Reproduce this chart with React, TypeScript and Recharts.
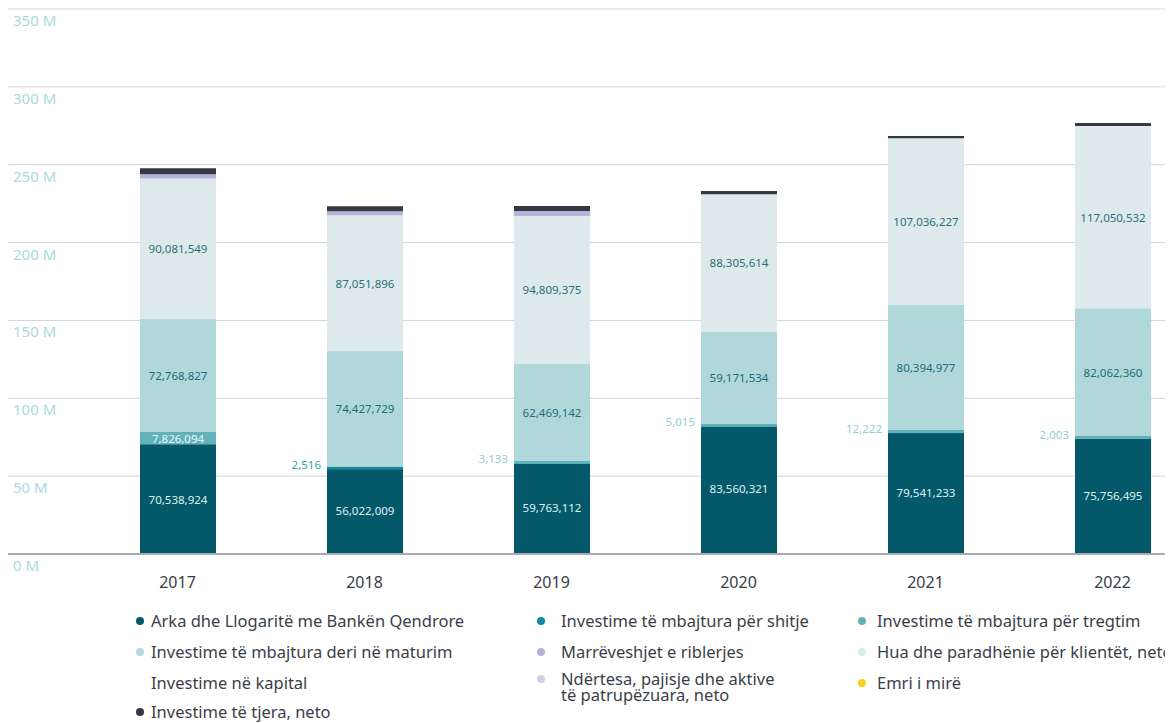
import { BarChart, Bar, XAxis, YAxis, CartesianGrid, LabelList } from "recharts"

// values (ALL amounts, stacked per year)
const years = ["2017", "2018", "2019", "2020", "2021", "2022"]
const arka = [70538924, 56022009, 59763112, 83560321, 79541233, 75756495]
const shitje = [null, 2516, null, null, null, null]
const tregtim = [7826094, null, 3133, 5015, 12222, 2003]
const maturim = [72768827, 74427729, 62469142, 59171534, 80394977, 82062360]
const hua = [90081549, 87051896, 94809375, 88305614, 107036227, 117050532]
const riblerje = [2600000, 2600000, 3200000, null, null, null]
const kapital = [null, null, null, null, null, null]
const ndertesa = [null, null, null, null, null, null]
const emri = [null, null, null, null, null, null]
const tjera = [3900000, 3200000, 3200000, 2100000, 1500000, 1900000]
const yTicks = [0, 50000000, 100000000, 150000000, 200000000, 250000000, 300000000, 350000000]

const data = years.map((year, i) => ({
  year,
  arka: arka[i],
  shitje: shitje[i],
  tregtim: tregtim[i],
  maturim: maturim[i],
  hua: hua[i],
  riblerje: riblerje[i],
  kapital: kapital[i],
  ndertesa: ndertesa[i],
  emri: emri[i],
  tjera: tjera[i],
}))

const colors = {
  arka: "#03596a",
  shitje: "#10899a",
  tregtim: "#62b3b9",
  maturim: "#b0d8db",
  riblerje: "#b8b2d8",
  hua: "#dde9ea",
  kapital: "#ffffff",
  ndertesa: "#cfcfe7",
  emri: "#f7d31a",
  tjera: "#343a45",
}

// legend layout (page coords of bullet / text / first line centre)
const legend = [
  { key: "arka", name: "Arka dhe Llogaritë me Bankën Qendrore", bx: 140, tx: 151, y: 621 },
  { key: "shitje", name: "Investime të mbajtura për shitje", bx: 541, tx: 561, y: 621 },
  { key: "tregtim", name: "Investime të mbajtura për tregtim", bx: 862, tx: 877, y: 621 },
  { key: "maturim", name: "Investime të mbajtura deri në maturim", bx: 140, tx: 151, y: 652 },
  { key: "riblerje", name: "Marrëveshjet e riblerjes", bx: 541, tx: 561, y: 652 },
  { key: "hua", name: "Hua dhe paradhënie për klientët, neto", bx: 862, tx: 877, y: 652 },
  { key: "kapital", name: "Investime në kapital", bx: null, tx: 151, y: 683 },
  { key: "ndertesa", name: "Ndërtesa, pajisje dhe aktive\ntë patrupëzuara, neto", bx: 541, tx: 561, y: 679 },
  { key: "emri", name: "Emri i mirë", bx: 862, tx: 877, y: 683 },
  { key: "tjera", name: "Investime të tjera, neto", bx: 140, tx: 151, y: 712 },
]

const fmt = (v: number) => v.toLocaleString("en-US")

// thin segments still show as a 3px line on top of the bar below
const ThinBar = (props: any) => {
  const { x, y, width, height, fill } = props
  if (!height || height <= 0) return <g />
  return <rect x={x} y={y} width={width} height={Math.max(height, 3)} fill={fill} />
}

const inside = (color: string) => (props: any) => {
  const { x, y, width, height, value } = props
  if (value == null) return null
  return (
    <text x={x + width / 2} y={y + height / 2} textAnchor="middle" dominantBaseline="central" fill={color} fontSize={11.5}>
      {fmt(value)}
    </text>
  )
}

const small = (color: string) => (props: any) => {
  const { x, y, width, height, value } = props
  if (value == null) return null
  if (height > 10) return inside("#eaf6f7")(props)
  return (
    <text x={x - 6} y={y - 2} textAnchor="end" dominantBaseline="central" fill={color} fontSize={11.5}>
      {fmt(value)}
    </text>
  )
}

export default function App() {
  return (
    <div style={{ position: "relative", width: 1165, height: 715, overflow: "hidden", fontFamily: '"Noto Sans", sans-serif' }}>
      <BarChart width={1198} height={600} data={data} margin={{ top: 1, right: 0, left: -2, bottom: 0 }}>
        <CartesianGrid vertical={false} stroke="#d3d3dc" />
        <XAxis
          dataKey="year"
          height={54}
          padding={{ left: 76, right: 0 }}
          tickLine={false}
          tickSize={0}
          tickMargin={0}
          axisLine={{ stroke: "#a9aab2", strokeWidth: 2 }}
          tick={({ x, y, payload }: any) => (
            <text x={x} y={y + 34} textAnchor="middle" fill="#3a3d45" fontSize={16}>
              {payload.value}
            </text>
          )}
        />
        <YAxis
          width={2}
          domain={[0, 350000000]}
          ticks={yTicks}
          interval={0}
          axisLine={false}
          tickLine={false}
          tick={({ y, payload }: any) => (
            <text x={5} y={y + 17} textAnchor="start" fill="#abd9dd" fontSize={15}>
              {payload.value / 1000000} M
            </text>
          )}
        />
        <Bar dataKey="arka" stackId="a" barSize={76} fill={colors.arka} isAnimationActive={false}>
          <LabelList dataKey="arka" content={inside("#dff0f1")} />
        </Bar>
        <Bar dataKey="shitje" stackId="a" barSize={76} fill={colors.shitje} shape={ThinBar} isAnimationActive={false}>
          <LabelList dataKey="shitje" content={small("#2fa3ad")} />
        </Bar>
        <Bar dataKey="tregtim" stackId="a" barSize={76} fill={colors.tregtim} shape={ThinBar} isAnimationActive={false}>
          <LabelList dataKey="tregtim" content={small("#94ced3")} />
        </Bar>
        <Bar dataKey="maturim" stackId="a" barSize={76} fill={colors.maturim} isAnimationActive={false}>
          <LabelList dataKey="maturim" content={inside("#216d77")} />
        </Bar>
        <Bar dataKey="hua" stackId="a" barSize={76} fill={colors.hua} isAnimationActive={false}>
          <LabelList dataKey="hua" content={inside("#2a717a")} />
        </Bar>
        <Bar dataKey="riblerje" stackId="a" barSize={76} fill={colors.riblerje} isAnimationActive={false} />
        <Bar dataKey="kapital" stackId="a" barSize={76} fill={colors.kapital} isAnimationActive={false} />
        <Bar dataKey="ndertesa" stackId="a" barSize={76} fill={colors.ndertesa} isAnimationActive={false} />
        <Bar dataKey="emri" stackId="a" barSize={76} fill={colors.emri} isAnimationActive={false} />
        <Bar dataKey="tjera" stackId="a" barSize={76} fill={colors.tjera} isAnimationActive={false} />
      </BarChart>
      {legend.map((item) => (
        <div key={item.key}>
          {item.bx != null && (
            <span
              style={{
                position: "absolute",
                left: item.bx - 8 - 4,
                top: item.y - 8 - 4,
                width: 8,
                height: 8,
                borderRadius: "50%",
                background: colors[item.key as keyof typeof colors],
              }}
            />
          )}
          <div
            style={{
              position: "absolute",
              left: item.tx - 8,
              top: item.y - 8 - 8,
              fontSize: 16.5,
              lineHeight: "16px",
              color: "#3b3e47",
              whiteSpace: "pre",
            }}
          >
            {item.name}
          </div>
        </div>
      ))}
    </div>
  )
}
